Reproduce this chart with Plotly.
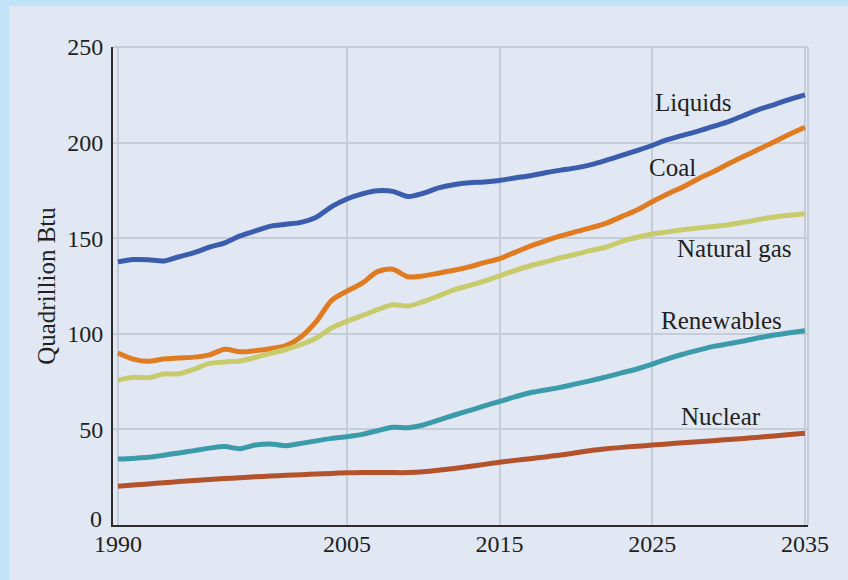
import plotly.graph_objects as go

# World energy consumption by fuel, 1990-2035 (quadrillion Btu)
years = list(range(1990, 2036))

liquids = [137.6, 138.8, 138.7, 138.1, 140.3, 142.5, 145.3, 147.6, 151.2, 153.8,
           156.3, 157.3, 158.3, 161.0, 166.5, 170.5, 173.2, 174.8, 174.5, 171.8,
           173.5, 176.3, 178.0, 179.0, 179.4, 180.2, 181.5, 182.7, 184.2, 185.6,
           186.8, 188.5, 190.8, 193.3, 195.8, 198.6, 201.5, 203.8, 206.0, 208.5,
           211.0, 214.2, 217.4, 219.9, 222.6, 225.0]

coal = [90.0, 86.8, 85.6, 86.8, 87.3, 87.8, 89.0, 91.9, 90.6, 91.2,
        92.2, 93.8, 98.5, 106.5, 117.5, 122.3, 126.5, 132.5, 133.8, 129.8,
        130.3, 131.7, 133.2, 135.0, 137.2, 139.3, 142.6, 145.9, 148.6, 151.2,
        153.4, 155.5, 157.9, 161.3, 164.7, 169.1, 173.1, 176.8, 181.0, 184.8,
        188.9, 192.8, 196.6, 200.5, 204.4, 208.0]

natural_gas = [75.8, 77.2, 77.0, 79.0, 79.1, 81.5, 84.5, 85.3, 85.8, 87.6,
               89.8, 91.8, 94.4, 97.8, 103.0, 106.5, 109.5, 112.6, 115.2, 114.5,
               116.8, 119.8, 123.0, 125.2, 127.5, 130.3, 133.1, 135.6, 137.6, 139.8,
               141.6, 143.6, 145.4, 148.3, 150.5, 152.2, 153.3, 154.4, 155.3, 156.1,
               157.0, 158.3, 159.8, 161.1, 162.0, 162.6]

renewables = [34.5, 34.8, 35.4, 36.5, 37.7, 38.9, 40.2, 41.0, 39.9, 41.8,
              42.4, 41.5, 42.7, 44.0, 45.3, 46.2, 47.4, 49.3, 51.1, 50.9,
              52.3, 54.8, 57.4, 59.8, 62.3, 64.6, 67.0, 69.2, 70.6, 72.0,
              73.8, 75.5, 77.5, 79.6, 81.6, 84.1, 86.9, 89.3, 91.4, 93.4,
              94.8, 96.2, 97.9, 99.4, 100.5, 101.6]

nuclear = [20.3, 20.9, 21.5, 22.1, 22.7, 23.3, 23.8, 24.3, 24.7, 25.2,
           25.6, 26.0, 26.3, 26.7, 27.0, 27.3, 27.5, 27.5, 27.4, 27.4,
           27.8, 28.6, 29.6, 30.6, 31.7, 32.8, 33.8, 34.7, 35.6, 36.6,
           37.8, 39.0, 39.9, 40.6, 41.2, 41.8, 42.4, 43.0, 43.5, 44.1,
           44.7, 45.3, 45.9, 46.6, 47.3, 48.0]

x_ticks = [1990, 2005, 2015, 2025, 2035]
y_ticks = [0, 50, 100, 150, 200, 250]

series = [
    ("Liquids", liquids, "#3a5dae", (2027.65, 221.2)),
    ("Coal", coal, "#e07b1f", (2026.35, 187.2)),
    ("Natural gas", natural_gas, "#c8cb6c", (2030.4, 144.4)),
    ("Renewables", renewables, "#3c9bab", (2029.55, 106.7)),
    ("Nuclear", nuclear, "#b3522b", (2029.5, 56.5)),
]

FONT = "Liberation Serif"
TEXT = "#231f20"
TICK_SIZE = 24
W, H = 848, 580
ML, MR, MT, MB = 113, 40, 47, 55
PW, PH = W - ML - MR, H - MT - MB

fig = go.Figure()
annotations = []
for name, vals, color, (ax, ay) in series:
    fig.add_trace(go.Scatter(
        x=years, y=vals, mode="lines", name=name,
        line=dict(color=color, width=5, shape="spline", smoothing=0.8),
        hoverinfo="x+y+name",
    ))
    annotations.append(dict(
        x=ax, y=ay, xref="x", yref="y", text=name, showarrow=False,
        font=dict(family=FONT, size=25, color=TEXT),
        xanchor="center", yanchor="middle",
    ))

# the zero label sits on the axis line rather than centred on it
y_ticktext = ["" if v == 0 else str(v) for v in y_ticks]
annotations.append(dict(
    x=0, y=0, xref="paper", yref="y", text="0", showarrow=False,
    xanchor="right", yanchor="middle", xshift=-9, yshift=6,
    font=dict(family=FONT, size=TICK_SIZE, color=TEXT),
))

def px_to_paper_x(px):
    return (px - ML) / PW

def px_to_paper_y(py):
    return (H - MB - py) / PH

shapes = [
    # light inner panel over the blue frame band (top and left)
    dict(type="rect", xref="paper", yref="paper",
         x0=px_to_paper_x(9), x1=px_to_paper_x(W + 5),
         y0=px_to_paper_y(H + 5), y1=px_to_paper_y(6),
         fillcolor="#e1e8f4", line=dict(width=0), layer="below"),
    # light top and right edges of the plotting frame
    dict(type="line", xref="paper", yref="paper", x0=0, x1=1, y0=1, y1=1,
         line=dict(color="#bcc5d2", width=1.5), layer="above"),
    dict(type="line", xref="paper", yref="paper", x0=1, x1=1, y0=0, y1=1,
         line=dict(color="#bcc5d2", width=1.5), layer="above"),
]

fig.update_layout(
    width=W, height=H,
    margin=dict(l=ML, r=MR, t=MT, b=MB, pad=0),
    paper_bgcolor="#c1e4f8",
    plot_bgcolor="#dce5f1",
    showlegend=False,
    font=dict(family=FONT, color=TEXT),
    annotations=annotations,
    shapes=shapes,
    xaxis=dict(
        range=[1989.68, 2035.2],
        tickmode="array", tickvals=x_ticks, ticktext=[str(v) for v in x_ticks],
        showgrid=True, gridcolor="#c5cdd9", gridwidth=1.5,
        zeroline=False,
        showline=True, linecolor="#2b2b2b", linewidth=2,
        ticks="", ticklabelstandoff=-4,
        tickfont=dict(family=FONT, size=TICK_SIZE, color=TEXT),
        fixedrange=True,
    ),
    yaxis=dict(
        range=[0, 250],
        tickmode="array", tickvals=y_ticks, ticktext=y_ticktext,
        showgrid=True, gridcolor="#c5cdd9", gridwidth=1.5,
        zeroline=False,
        showline=True, linecolor="#2b2b2b", linewidth=2,
        ticks="", ticklabelstandoff=3,
        tickfont=dict(family=FONT, size=TICK_SIZE, color=TEXT),
        title=dict(text="Quadrillion Btu", standoff=4,
                   font=dict(family=FONT, size=25, color=TEXT)),
        fixedrange=True,
    ),
)

fig.write_html("out.html")
